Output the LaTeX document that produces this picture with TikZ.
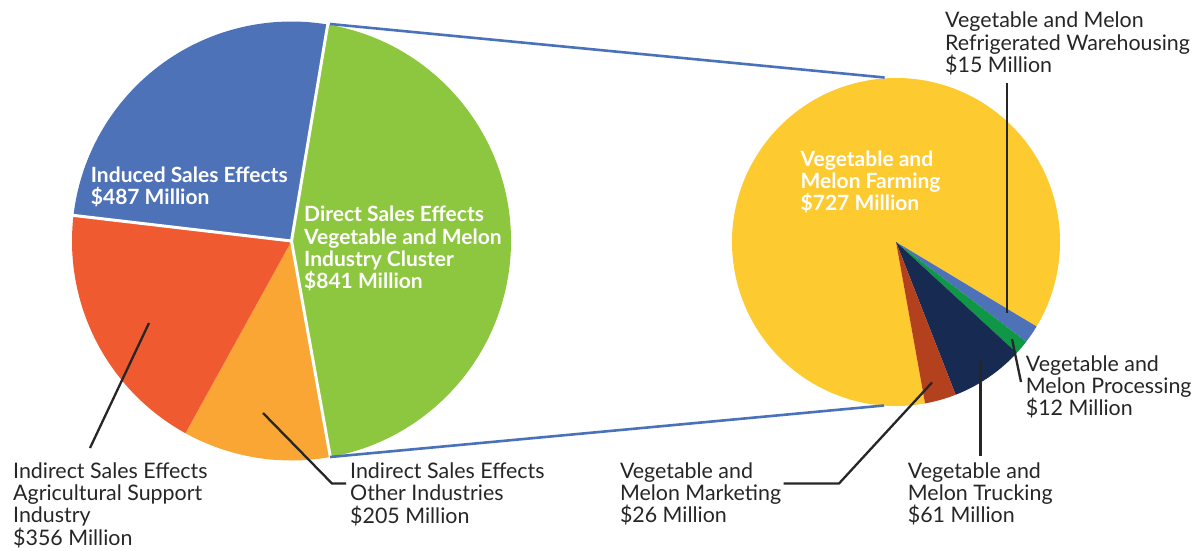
\documentclass[tikz,border=0pt]{standalone}
\usepackage{fontspec}
\setmainfont{Lato}
\definecolor{lblue}{HTML}{4E72B8}
\definecolor{lgreen}{HTML}{8DC63F}
\definecolor{lred}{HTML}{F05A30}
\definecolor{lorange}{HTML}{F9A634}
\definecolor{ryellow}{HTML}{FDCA2F}
\definecolor{rgreen}{HTML}{0F9747}
\definecolor{rnavy}{HTML}{172A52}
\definecolor{rbrown}{HTML}{B3411E}
\definecolor{cblue}{HTML}{4A72BA}
\definecolor{tdark}{HTML}{262626}
\tikzset{
  lbl/.style={anchor=base west, inner sep=0pt, align=left, text=tdark,
    font=\fontsize{21.4}{22.3}\selectfont},
  wlbl/.style={anchor=base west, inner sep=0pt, align=left, text=white,
    font=\fontsize{21}{22.3}\selectfont\bfseries},
  leader/.style={draw=tdark, line width=2.3pt},
  zoomline/.style={draw=cblue, line width=2.6pt},
  sep/.style={draw=white, line width=3pt}
}
\begin{document}
\begin{tikzpicture}[x=1pt,y=-1pt]
\useasboundingbox (0,0) rectangle (1197,550);
% ---------- left pie ----------
\coordinate (L) at (291.5,241);
\def\LR{219.5}
\fill[lgreen] (L) -- ++(-80.5:\LR) arc[start angle=-80.5, end angle=79.8, radius=\LR] -- cycle;
\fill[lorange] (L) -- ++(79.8:\LR) arc[start angle=79.8, end angle=118.9, radius=\LR] -- cycle;
\fill[lred] (L) -- ++(118.9:\LR) arc[start angle=118.9, end angle=186.7, radius=\LR] -- cycle;
\fill[lblue] (L) -- ++(186.7:\LR) arc[start angle=186.7, end angle=279.5, radius=\LR] -- cycle;
\draw[sep] (L) -- ++(-80.5:\LR+2);
\draw[sep] (L) -- ++(79.8:\LR+2);
\draw[sep] (L) -- ++(186.7:\LR+2);
% ---------- right pie ----------
\coordinate (R) at (896,242);
\def\RR{164}
\fill[ryellow] (R) -- ++(79.8:\RR) arc[start angle=79.8, end angle=391, radius=\RR] -- cycle;
\fill[lblue] (R) -- ++(31:\RR) arc[start angle=31, end angle=37.42, radius=\RR] -- cycle;
\fill[rgreen] (R) -- ++(37.42:\RR) arc[start angle=37.42, end angle=42.56, radius=\RR] -- cycle;
\fill[rnavy] (R) -- ++(42.56:\RR) arc[start angle=42.56, end angle=68.67, radius=\RR] -- cycle;
\fill[rbrown] (R) -- ++(68.67:\RR) arc[start angle=68.67, end angle=79.8, radius=\RR] -- cycle;
% ---------- zoom connectors ----------
\coordinate (ltop) at (330,24);
\coordinate (lbot) at (330,457);
\coordinate (rtop) at (884.6,77.5);
\coordinate (rbot) at (884,405.5);
\draw[zoomline] (ltop) -- (rtop);
\draw[zoomline] (lbot) -- (rbot);
% ---------- labels (anchor = baseline of last line) ----------
\node[wlbl] (induced) at (90.7,204.8) {Induced Sales Effects\\\$487 Million};
\node[wlbl] (direct) at (304,288.6) {Direct Sales Effects\\Vegetable and Melon\\Industry Cluster\\\$841 Million};
\node[lbl] (agri) at (13,545) {Indirect Sales Effects\\Agricultural Support\\Industry\\\$356 Million};
\node[lbl] (other) at (350,523) {Indirect Sales Effects\\Other Industries\\\$205 Million};
\node[wlbl] (farming) at (800.5,210.6) {Vegetable and\\Melon Farming\\\$727 Million};
\node[lbl] (ware) at (945,72.3) {Vegetable and Melon\\Refrigerated Warehousing\\\$15 Million};
\node[lbl] (proc) at (1025.7,415.6) {Vegetable and\\Melon Processing\\\$12 Million};
\node[lbl] (truck) at (907.7,522.6) {Vegetable and\\Melon Trucking\\\$61 Million};
\node[lbl] (market) at (619.8,522.6) {Vegetable and\\Melon Marketing\\\$26 Million};
% ---------- leader lines ----------
\coordinate (a1) at (149,323); \coordinate (a2) at (90,448);
\coordinate (b1) at (263,413); \coordinate (b2) at (332,483.5); \coordinate (b3) at (346,483.5);
\coordinate (c1) at (1007,83); \coordinate (c2) at (1007,313);
\coordinate (d1) at (1012,339); \coordinate (d2) at (1021,382);
\coordinate (e1) at (980.5,360); \coordinate (e2) at (980.5,456);
\coordinate (f1) at (932,382.5); \coordinate (f2) at (839,483.5); \coordinate (f3) at (783.5,483.5);
\draw[leader] (a1) -- (a2);
\draw[leader] (b1) -- (b2) -- (b3);
\draw[leader] (c1) -- (c2);
\draw[leader] (d1) -- (d2);
\draw[leader] (e1) -- (e2);
\draw[leader] (f1) -- (f2) -- (f3);
\end{tikzpicture}
\end{document}
